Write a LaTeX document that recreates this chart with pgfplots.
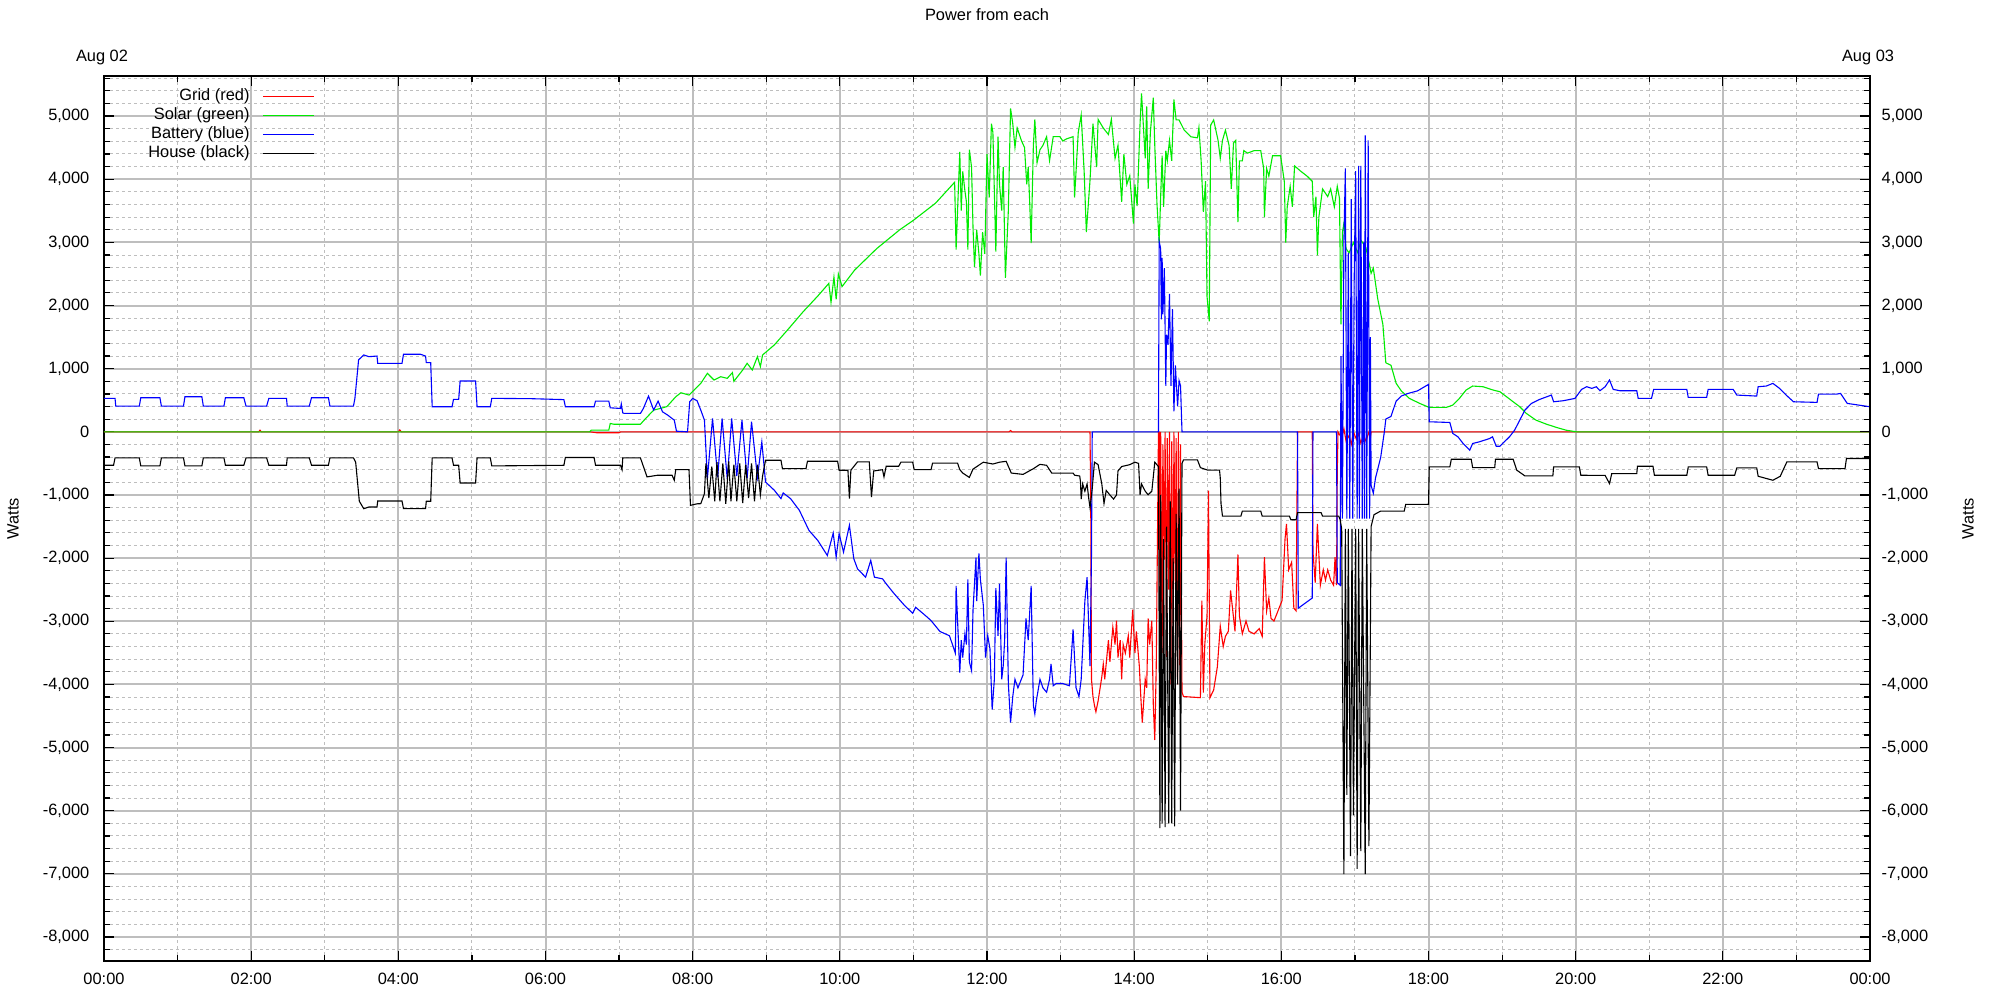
\documentclass[border=0pt]{standalone}
\usepackage{fontspec}
\setmainfont{Liberation Sans}
\usepackage{pgfplots}
\pgfplotsset{compat=1.18}

\definecolor{gridgray}{RGB}{190,190,190}
\definecolor{gridred}{RGB}{255,0,0}
\definecolor{solargreen}{RGB}{0,235,0}
\definecolor{battblue}{RGB}{0,0,255}

\pgfplotsset{
  powerframe/.style={
    at={(0,0)}, anchor=south west,
    scale only axis, width=883pt, height=442.5pt,
    xmin=0, xmax=24, ymin=-8380, ymax=5635,
    ytick={-8000,-7000,...,5000},
    yticklabels={{-8,000},{-7,000},{-6,000},{-5,000},{-4,000},{-3,000},{-2,000},{-1,000},0,{1,000},{2,000},{3,000},{4,000},{5,000}},
    tick align=inside,
    major tick length=5pt, minor tick length=3pt,
    tick style={black, line width=0.6pt},
    axis line style={line width=0.6pt},
  }
}

\begin{document}
\begin{tikzpicture}[font=\fontsize{8.2}{9.5}\selectfont]
\path[use as bounding box] (-52pt,-19.5pt) rectangle (948pt,480.5pt);

\begin{axis}[
  powerframe,
  clip mode=individual,
  xtick={0,2,...,24},
  xticklabels={00:00,02:00,04:00,06:00,08:00,10:00,12:00,14:00,16:00,18:00,20:00,22:00,00:00},
  minor xtick={1,3,...,23},
  minor ytick={-8200,-7800,-7600,-7400,-7200,-6800,-6600,-6400,-6200,-5800,-5600,-5400,-5200,-4800,-4600,-4400,-4200,-3800,-3600,-3400,-3200,-2800,-2600,-2400,-2200,-1800,-1600,-1400,-1200,-800,-600,-400,-200,200,400,600,800,1200,1400,1600,1800,2200,2400,2600,2800,3200,3400,3600,3800,4200,4400,4600,4800,5200,5400,5600},
  grid=both,
  major grid style={gridgray, line width=1pt},
  minor grid style={gridgray, line width=0.5pt, dash pattern=on 1.5pt off 1.5pt},
  xticklabel style={anchor=center, yshift=-9pt},
  yticklabel style={anchor=east, xshift=-3.8pt},
  ytick pos=both, yticklabel pos=left,
  xtick pos=both, xticklabel pos=bottom,
  title={Power from each},
  title style={at={(axis description cs:0.5,1)}, anchor=center, yshift=24.5pt},
  ylabel={Watts},
  ylabel style={at={(axis description cs:-0.0515,0.5)}, anchor=center, rotate=0},
  legend style={draw=none, fill=none, inner sep=0pt, column sep=6.5pt,
    at={(axis description cs:0.1195,0.9881)}, anchor=north east,
    nodes={text height=6pt, text depth=1.5pt, inner ysep=1pt, inner xsep=0pt}},
  legend cell align=right,
  legend plot pos=right,
  legend image code/.code={\draw[#1] (0pt,0pt) -- (25.5pt,0pt);},
  every axis plot/.append style={line width=0.55pt},
]

% Grid (red)
\addplot[gridred] coordinates {
(0,0) (2.1,0) (2.12,25) (2.14,0) (4.0,0) (4.02,30) (4.04,0) (6.60,0) (6.70,-15) (7.00,-15) (7.02,0)
(10.0,0) (12.3,0) (12.32,20) (12.34,0) (13.40,0)
(13.41,-1237) (13.42,-3918) (13.44,-4192) (13.46,-4330) (13.48,-4433) (13.51,-4261) (13.56,-3883)
(13.58,-3677) (13.60,-3918) (13.65,-3299) (13.67,-3643) (13.71,-3093) (13.74,-3368) (13.76,-2990)
(13.78,-3574) (13.81,-3299) (13.83,-3918) (13.85,-3368) (13.88,-3505) (13.92,-3230) (13.94,-3574)
(13.98,-2818) (14.01,-3505) (14.03,-3161) (14.07,-3711) (14.09,-4192) (14.11,-4605) (14.15,-3918)
(14.17,-4055) (14.19,-2955) (14.21,-3368) (14.24,-2990) (14.26,-4330) (14.28,-4880) (14.30,-3711)
(14.33,0) (14.34,0) (14.35,-2915) (14.36,0) (14.38,-3500) (14.39,-200) (14.41,-2024) (14.42,0)
(14.44,-3563) (14.45,-100) (14.47,-2500) (14.48,0) (14.50,-4000) (14.51,-150) (14.53,-3300)
(14.54,0) (14.56,-2500) (14.57,-100) (14.59,-4000) (14.60,0) (14.62,-3700) (14.63,-200)
(14.65,-4124) (14.67,-4192) (14.90,-4210) (14.92,-2672) (14.94,-4130) (14.96,-3360) (14.99,-2915)
(15.01,-931) (15.03,-4210) (15.08,-4089) (15.13,-3725) (15.17,-3077) (15.21,-3401) (15.24,-3239)
(15.28,-3158) (15.31,-2510) (15.34,-2834) (15.37,-3158) (15.41,-1943) (15.43,-2915) (15.47,-3198)
(15.52,-2996) (15.56,-3158) (15.63,-3200) (15.70,-3117) (15.74,-3239) (15.77,-1984) (15.80,-2834)
(15.83,-2632) (15.86,-2955) (15.90,-2996) (16.01,-2672) (16.05,-1700) (16.07,-1457) (16.10,-2186)
(16.14,-2065) (16.17,-2793) (16.20,-2834) (16.22,0) (16.42,0) (16.43,-1903) (16.46,-2389)
(16.49,-1457) (16.53,-2429) (16.57,-2186) (16.60,-2348) (16.63,-2186) (16.67,-2348) (16.71,-2430)
(16.73,-1984) (16.75,-2429) (16.76,-648) (16.77,0) (16.82,-100) (16.85,50) (16.88,-150)
(16.92,-60) (16.95,-200) (16.98,0) (17.02,-120) (17.05,-30) (17.08,-180) (17.12,-50) (17.15,-150)
(17.19,0) (17.21,-100) (17.22,0) (24,0)
};
\addlegendentry{Grid (red)}

% Solar (green)
\addplot[solargreen] coordinates {
(0,0) (6.60,0) (6.62,26) (6.86,26) (6.88,132) (6.93,120) (7.29,120) (7.34,185) (7.47,344)
(7.56,370) (7.65,400) (7.77,555) (7.84,619) (7.95,582) (8.02,661) (8.11,767) (8.20,926)
(8.29,820) (8.38,873) (8.47,847) (8.54,937) (8.56,800) (8.68,979) (8.74,1085) (8.81,979)
(8.88,1190) (8.92,1032) (8.95,1217) (9.11,1376) (9.29,1614) (9.50,1900) (9.70,2150) (9.85,2350)
(9.88,2050) (9.92,2450) (9.95,2100) (9.98,2500) (10.03,2300) (10.20,2560) (10.50,2900)
(10.81,3196) (11.00,3350) (11.30,3620) (11.56,3952)
(11.58,2887) (11.63,4433) (11.65,3505) (11.67,4124) (11.70,3814) (11.72,3643) (11.74,2887)
(11.76,4467) (11.79,4192) (11.81,3230) (11.83,2612) (11.86,3196) (11.89,2818) (11.91,2474)
(11.94,3161) (11.97,2818) (12.00,4399) (12.03,3711) (12.06,4880) (12.08,4742) (12.12,2852)
(12.15,4674) (12.17,3918) (12.20,3505) (12.22,4192) (12.25,2440) (12.29,3505) (12.32,5120)
(12.35,4880) (12.38,4502) (12.41,4811) (12.47,4605) (12.51,4502) (12.54,3918) (12.56,4192)
(12.58,3643) (12.60,2990) (12.63,4536) (12.65,4948) (12.68,4261) (12.72,4467) (12.76,4536)
(12.81,4674) (12.85,4296) (12.90,4674) (12.99,4674) (13.03,4605) (13.08,4639) (13.17,4674)
(13.19,3711) (13.24,4742) (13.28,5017) (13.32,4124) (13.35,3161) (13.40,3986) (13.44,4880)
(13.49,4192) (13.51,4948) (13.58,4811) (13.65,4708) (13.69,4948) (13.74,4330) (13.78,4536)
(13.83,3643) (13.86,4399) (13.90,3918) (13.94,4055) (13.99,3299) (14.01,3918) (14.04,3574)
(14.08,4880) (14.10,5361) (14.15,4330) (14.17,5155) (14.19,3849) (14.22,4742) (14.26,5292)
(14.28,4536) (14.31,3608) (14.34,2990) (14.36,3725) (14.38,4372) (14.40,3563) (14.43,4453)
(14.45,4291) (14.48,4615) (14.51,4291) (14.54,5263) (14.57,4939) (14.61,4939) (14.68,4777)
(14.77,4672) (14.86,4656) (14.88,4818) (14.91,4291) (14.94,3482) (14.97,3968) (14.99,2146)
(15.02,1750) (15.04,4858) (15.08,4939) (15.11,4777) (15.14,4615) (15.17,4332) (15.20,4615)
(15.24,4777) (15.29,4534) (15.32,3846) (15.35,4575) (15.38,4615) (15.41,3320) (15.43,4291)
(15.47,4291) (15.49,4453) (15.54,4413) (15.63,4453) (15.72,4453) (15.76,4170) (15.77,3401)
(15.80,4170) (15.83,4049) (15.88,4372) (15.99,4372) (16.04,3968) (16.06,2996) (16.08,3563)
(16.12,3887) (16.15,3563) (16.18,4211) (16.26,4130) (16.35,4049) (16.42,3968) (16.44,3401)
(16.47,3725) (16.49,2794) (16.51,3400) (16.56,3846) (16.63,3725) (16.67,3846) (16.72,3563)
(16.76,3887) (16.79,3700) (16.81,1700) (16.83,3158) (16.85,3300) (16.88,2900) (16.92,2834)
(16.98,2996) (17.04,2834) (17.08,3036) (17.15,2915) (17.22,2510) (17.25,2591) (17.31,2105)
(17.38,1700) (17.42,1093) (17.49,1053) (17.56,769) (17.63,648) (17.74,529) (17.88,450)
(18.01,386) (18.24,386) (18.33,423) (18.42,529) (18.51,661) (18.60,725) (18.74,714) (18.88,661)
(18.97,635) (19.06,556) (19.15,476) (19.24,397) (19.33,291) (19.46,185) (19.60,122) (19.74,69)
(19.87,26) (20.01,0) (24,0)
};
\addlegendentry{Solar (green)}

% Battery (blue)
\addplot[battblue] coordinates {
(0,530) (0.15,530) (0.16,407) (0.48,407) (0.50,540) (0.76,540) (0.78,407) (1.08,407) (1.10,555)
(1.33,555) (1.35,407) (1.63,407) (1.65,540) (1.90,540) (1.93,407) (2.21,407) (2.24,530)
(2.48,530) (2.49,407) (2.79,407) (2.82,540) (3.05,540) (3.07,407) (3.39,407) (3.41,530)
(3.46,1140) (3.53,1217) (3.60,1190) (3.71,1200) (3.72,1085) (4.05,1085) (4.07,1228) (4.30,1228)
(4.37,1200) (4.38,1095) (4.44,1095) (4.46,397) (4.73,397) (4.75,513) (4.82,513) (4.84,804)
(5.05,804) (5.07,397) (5.25,397) (5.27,530) (5.80,525) (6.25,510) (6.27,397) (6.66,397)
(6.68,487) (6.86,487) (6.88,380) (7.02,370) (7.03,440) (7.05,300) (7.07,291) (7.29,291)
(7.33,370) (7.40,566) (7.47,344) (7.53,487) (7.59,317) (7.66,265) (7.75,185) (7.78,10) (7.93,0)
(7.96,476) (8.00,529) (8.06,492) (8.11,344) (8.16,185)
(8.20,-740) (8.27,212) (8.34,-720) (8.40,212) (8.47,-750) (8.53,212) (8.60,-700) (8.67,185)
(8.74,-740) (8.80,160) (8.88,-720) (8.94,-160) (8.99,-794) (9.11,-926) (9.20,-1058) (9.23,-968)
(9.33,-1058) (9.45,-1243) (9.58,-1561) (9.70,-1720) (9.83,-1958) (9.91,-1603) (9.95,-1984)
(9.99,-1614) (10.05,-1905) (10.13,-1481) (10.19,-2011) (10.24,-2169) (10.35,-2302) (10.42,-2037)
(10.47,-2302) (10.58,-2328) (10.63,-2407) (10.74,-2566) (10.88,-2751) (10.99,-2873) (11.03,-2778)
(11.19,-2937) (11.24,-2990) (11.36,-3161) (11.49,-3230) (11.57,-3505)
(11.58,-2440) (11.63,-3814) (11.65,-3299) (11.67,-3574) (11.70,-3196) (11.72,-3368) (11.74,-2337)
(11.76,-3643) (11.79,-3780) (11.81,-2818) (11.85,-1993) (11.86,-2680) (11.89,-1924) (11.91,-2337)
(11.95,-2749) (11.98,-3574) (12.01,-3230) (12.04,-3436) (12.07,-4399) (12.10,-3918) (12.12,-2474)
(12.15,-3230) (12.17,-2405) (12.20,-3918) (12.22,-3711) (12.24,-3299) (12.26,-1993) (12.29,-3986)
(12.32,-4605) (12.35,-4192) (12.38,-3918) (12.42,-4055) (12.49,-3849) (12.53,-2955) (12.56,-3299)
(12.60,-2440) (12.63,-4330) (12.65,-4467) (12.67,-4261) (12.72,-3918) (12.76,-4055) (12.81,-4124)
(12.85,-3918) (12.87,-3677) (12.90,-4021) (12.94,-3986) (13.03,-3986) (13.12,-4021) (13.17,-3127)
(13.21,-4055) (13.25,-4192) (13.28,-3918) (13.33,-2680) (13.36,-2302) (13.40,-3711) (13.42,-1924)
(13.43,0) (14.33,0) (14.34,3012) (14.36,2900) (14.37,1781) (14.38,2753) (14.39,1862) (14.41,2591)
(14.43,729) (14.44,1538) (14.46,1377) (14.47,1781) (14.48,2186) (14.50,729) (14.52,1943)
(14.54,324) (14.56,1053) (14.59,405) (14.61,810) (14.63,729) (14.65,0) (16.22,0) (16.23,-2793)
(16.42,-2632) (16.43,0) (16.75,0) (16.76,-2389) (16.80,-2430)
(16.81,1200) (16.83,-1376) (16.85,3000) (16.87,4170) (16.89,-1376) (16.91,2834) (16.93,-1376)
(16.95,3684) (16.97,-1376) (16.99,2400) (17.01,4130) (17.03,-1376) (17.05,4211) (17.06,-1376)
(17.08,4211) (17.10,-1376) (17.12,3000) (17.13,-1376) (17.14,4696) (17.16,-1376) (17.18,4615)
(17.20,-1376) (17.21,1500) (17.22,-850) (17.25,-972) (17.28,-729) (17.35,-405) (17.40,0)
(17.42,202) (17.49,243) (17.56,486) (17.63,567) (17.72,607) (17.85,648) (18.00,751) (18.01,159)
(18.29,148) (18.33,-26) (18.40,-79) (18.47,-185) (18.56,-291) (18.60,-185) (18.69,-159)
(18.83,-106) (18.87,-79) (18.92,-228) (18.97,-228) (19.10,-79) (19.17,26) (19.24,185) (19.31,344)
(19.40,450) (19.51,513) (19.67,582) (19.70,476) (19.83,492) (19.99,529) (20.08,672) (20.15,714)
(20.22,688) (20.28,714) (20.33,651) (20.40,714) (20.46,820) (20.51,672) (20.60,651) (20.83,651)
(20.85,529) (21.03,529) (21.06,672) (21.51,672) (21.53,545) (21.78,545) (21.80,672) (22.14,672)
(22.19,582) (22.46,566) (22.48,714) (22.59,725) (22.68,767) (22.77,688) (22.86,582) (22.96,476)
(23.28,466) (23.30,598) (23.55,598) (23.60,608) (23.69,450) (24,397)
};
\addlegendentry{Battery (blue)}

% House (black)
\addplot[black] coordinates {
(0,-529) (0.13,-529) (0.15,-413) (0.48,-413) (0.50,-540) (0.76,-540) (0.78,-413) (1.08,-413)
(1.10,-540) (1.33,-540) (1.35,-413) (1.63,-413) (1.65,-529) (1.90,-529) (1.93,-413) (2.21,-413)
(2.24,-529) (2.48,-529) (2.49,-413) (2.79,-413) (2.82,-529) (3.05,-529) (3.07,-413) (3.39,-413)
(3.42,-480) (3.47,-1100) (3.53,-1217) (3.60,-1190) (3.71,-1190) (3.72,-1095) (4.05,-1095)
(4.07,-1217) (4.37,-1217) (4.38,-1100) (4.44,-1100) (4.46,-413) (4.73,-413) (4.75,-529)
(4.82,-529) (4.84,-810) (5.05,-810) (5.07,-413) (5.25,-413) (5.27,-540) (6.25,-530) (6.27,-407)
(6.66,-407) (6.68,-529) (7.02,-529) (7.04,-600) (7.05,-413) (7.29,-413) (7.38,-714) (7.52,-688)
(7.72,-688) (7.75,-767) (7.77,-598) (7.95,-598) (7.97,-1164) (8.06,-1140) (8.11,-1138)
(8.16,-979) (8.18,-500) (8.22,-1050) (8.26,-550) (8.30,-1100) (8.33,-480) (8.37,-1100)
(8.41,-500) (8.45,-1140) (8.49,-470) (8.52,-1100) (8.56,-520) (8.60,-1100) (8.64,-500)
(8.68,-1130) (8.72,-520) (8.76,-1050) (8.80,-500) (8.84,-1100) (8.88,-520) (8.92,-1000)
(8.95,-700) (8.99,-450) (9.20,-450) (9.22,-582) (9.54,-582) (9.56,-466) (9.97,-466) (9.99,-608)
(10.11,-608) (10.13,-1058) (10.15,-608) (10.24,-476) (10.40,-476) (10.43,-1032) (10.46,-620)
(10.58,-600) (10.60,-714) (10.63,-545) (10.80,-545) (10.83,-481) (10.99,-481) (11.01,-598)
(11.24,-598) (11.26,-495) (11.60,-495) (11.63,-598) (11.67,-653) (11.76,-722) (11.81,-590)
(11.95,-481) (12.08,-510) (12.17,-481) (12.26,-467) (12.33,-653) (12.49,-674) (12.63,-584)
(12.72,-515) (12.81,-530) (12.88,-653) (13.17,-653) (13.19,-687) (13.26,-700) (13.27,-790)
(13.28,-1065) (13.30,-825) (13.33,-940) (13.36,-825) (13.38,-1031) (13.40,-1203) (13.43,-900)
(13.46,-481) (13.51,-520) (13.56,-825) (13.59,-1134) (13.62,-928) (13.67,-1000) (13.72,-1065)
(13.76,-1000) (13.78,-619) (13.83,-550) (13.94,-520) (14.01,-481) (14.06,-500) (14.08,-997)
(14.10,-825) (14.15,-940) (14.19,-997) (14.24,-940) (14.28,-481) (14.33,-550)
(14.35,-6275) (14.36,-1000) (14.38,-6200) (14.40,-1700) (14.42,-6260) (14.44,-1500)
(14.47,-6200) (14.49,-1100) (14.51,-6200) (14.53,-2000) (14.55,-6250) (14.57,-1300)
(14.59,-4000) (14.61,-900) (14.63,-6000) (14.65,-500) (14.67,-445) (14.86,-445) (14.90,-567)
(15.00,-607) (15.16,-607) (15.17,-729) (15.18,-1134) (15.20,-1336) (15.45,-1336) (15.47,-1255)
(15.72,-1255) (15.74,-1336) (16.11,-1336) (16.13,-1393) (16.20,-1393) (16.22,-1279) (16.54,-1279)
(16.56,-1336) (16.78,-1336) (16.80,-1393)
(16.82,-1538) (16.85,-7004) (16.87,-1538) (16.89,-5749) (16.91,-1538) (16.94,-6721) (16.96,-1538)
(16.98,-6073) (17.01,-1538) (17.03,-6923) (17.05,-1538) (17.08,-6640) (17.10,-1538) (17.14,-7004)
(17.16,-1538) (17.19,-6559) (17.22,-1498) (17.26,-1312) (17.35,-1255) (17.67,-1255) (17.69,-1150)
(18.00,-1150) (18.01,-556) (18.29,-556) (18.31,-434) (18.58,-434) (18.60,-566) (18.90,-566)
(18.91,-434) (19.15,-434) (19.20,-608) (19.31,-698) (19.69,-698) (19.70,-556) (20.05,-556)
(20.07,-688) (20.40,-690) (20.46,-820) (20.49,-661) (20.83,-661) (20.84,-545) (21.05,-545)
(21.07,-688) (21.51,-688) (21.53,-556) (21.78,-556) (21.80,-688) (22.16,-688) (22.19,-571)
(22.46,-571) (22.48,-704) (22.68,-767) (22.78,-704) (22.87,-476) (23.28,-476) (23.30,-582)
(23.66,-582) (23.68,-423) (24,-423)
};
\addlegendentry{House (black)}

\node at (rel axis cs:0,1) [yshift=9.5pt, xshift=-1pt] {Aug 02};
\node at (rel axis cs:1,1) [yshift=9.5pt, xshift=-1pt] {Aug 03};
\end{axis}

% right-hand labels
\begin{axis}[
  powerframe,
  hide x axis,
  axis y line*=right,
  ytick pos=right, yticklabel pos=right,
  minor ytick={},
  yticklabel style={anchor=west, xshift=2.3pt},
  ylabel={Watts},
  ylabel style={at={(axis description cs:1.0555,0.5)}, anchor=center, rotate=0},
]
\end{axis}
\end{tikzpicture}
\end{document}
